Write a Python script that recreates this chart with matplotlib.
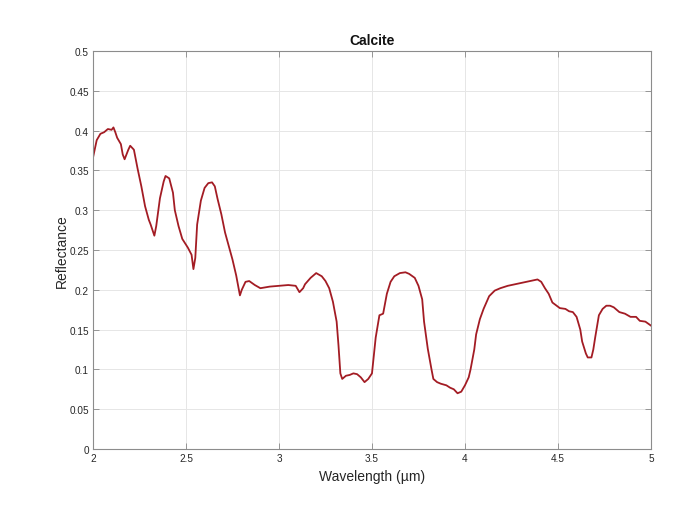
import matplotlib

matplotlib.use("Agg")
import matplotlib.pyplot as plt

plt.rcParams["font.family"] = ["Liberation Sans", "DejaVu Sans"]

# values
wavelength = [2.00, 2.02, 2.04, 2.06, 2.08, 2.10, 2.11, 2.12, 2.13, 2.15, 2.16, 2.17,
              2.19, 2.20, 2.22, 2.24, 2.26, 2.28, 2.30, 2.31, 2.33, 2.34, 2.36, 2.38,
              2.39, 2.41, 2.43, 2.44, 2.46, 2.48, 2.51, 2.53, 2.54, 2.55, 2.56, 2.58,
              2.60, 2.62, 2.64, 2.655, 2.67, 2.69, 2.71, 2.73, 2.75, 2.77, 2.79, 2.80,
              2.82, 2.84, 2.87, 2.90, 2.95, 3.00, 3.05, 3.09, 3.11, 3.13, 3.14, 3.17,
              3.20, 3.23, 3.25, 3.27, 3.29, 3.31, 3.32, 3.33, 3.34, 3.36, 3.38, 3.40,
              3.42, 3.44, 3.46, 3.48, 3.50, 3.52, 3.54, 3.56, 3.58, 3.60, 3.62, 3.65,
              3.68, 3.70, 3.73, 3.75, 3.77, 3.78, 3.80, 3.82, 3.83, 3.85, 3.87, 3.90,
              3.92, 3.94, 3.96, 3.98, 4.00, 4.02, 4.03, 4.05, 4.06, 4.08, 4.10, 4.13,
              4.16, 4.19, 4.23, 4.27, 4.31, 4.35, 4.39, 4.41, 4.43, 4.45, 4.47, 4.51,
              4.54, 4.56, 4.58, 4.60, 4.62, 4.63, 4.65, 4.66, 4.68, 4.69, 4.70, 4.72,
              4.74, 4.76, 4.78, 4.80, 4.83, 4.86, 4.89, 4.92, 4.94, 4.97, 5.00]
reflectance = [0.366, 0.388, 0.396, 0.398, 0.402, 0.401, 0.404, 0.398, 0.391, 0.383, 0.370, 0.364,
               0.376, 0.381, 0.376, 0.352, 0.330, 0.305, 0.288, 0.282, 0.268, 0.280, 0.315, 0.336,
               0.343, 0.340, 0.322, 0.300, 0.280, 0.264, 0.253, 0.244, 0.226, 0.240, 0.282, 0.312,
               0.328, 0.334, 0.335, 0.330, 0.314, 0.295, 0.272, 0.255, 0.238, 0.218, 0.193, 0.200,
               0.210, 0.211, 0.206, 0.202, 0.204, 0.205, 0.206, 0.205, 0.197, 0.202, 0.207, 0.215,
               0.221, 0.217, 0.211, 0.202, 0.185, 0.160, 0.130, 0.095, 0.088, 0.092, 0.093, 0.095,
               0.094, 0.090, 0.084, 0.088, 0.095, 0.140, 0.168, 0.170, 0.195, 0.210, 0.217, 0.221,
               0.222, 0.220, 0.215, 0.205, 0.188, 0.160, 0.126, 0.100, 0.088, 0.084, 0.082, 0.080,
               0.077, 0.075, 0.070, 0.072, 0.080, 0.090, 0.100, 0.125, 0.144, 0.163, 0.176, 0.192,
               0.199, 0.202, 0.205, 0.207, 0.209, 0.211, 0.213, 0.210, 0.202, 0.195, 0.184, 0.177,
               0.176, 0.173, 0.172, 0.166, 0.150, 0.135, 0.120, 0.115, 0.115, 0.125, 0.140, 0.168,
               0.176, 0.180, 0.180, 0.178, 0.172, 0.170, 0.166, 0.166, 0.161, 0.160, 0.155]

x_ticks = [2, 2.5, 3, 3.5, 4, 4.5, 5]
x_ticklabels = ["2", "2.5", "3", "3.5", "4", "4.5", "5"]
y_ticks = [0, 0.05, 0.1, 0.15, 0.2, 0.25, 0.3, 0.35, 0.4, 0.45, 0.5]
y_ticklabels = ["0", "0.05", "0.1", "0.15", "0.2", "0.25", "0.3", "0.35", "0.4", "0.45", "0.5"]

fig = plt.figure(figsize=(6.96, 5.06), dpi=100)
ax = fig.add_axes([0.1336, 0.1107, 0.8017, 0.7865])

ax.plot(wavelength, reflectance, color="#A31C24", lw=1.3)

ax.set_xlim(2, 5)
ax.set_ylim(0, 0.5)
ax.set_xticks(x_ticks)
ax.set_xticklabels(x_ticklabels)
ax.set_yticks(y_ticks)
ax.set_yticklabels(y_ticklabels)
ax.tick_params(direction="in", length=4, width=0.6, color="#888888",
               labelsize=7.2, labelcolor="#262626", top=True, right=True, pad=3)
ax.grid(True, color="#e6e6e6", lw=0.7)
ax.set_axisbelow(True)
for s in ax.spines.values():
    s.set_color("#8c8c8c")
    s.set_linewidth(0.8)

ax.set_title("Calcite", fontsize=10, fontweight="bold", color="#111111", pad=5)
ax.set_xlabel("Wavelength (\u00b5m)", fontsize=10, color="#262626", labelpad=4)
ax.set_ylabel("Reflectance", fontsize=10, color="#262626", labelpad=0)

fig.savefig("out.png", dpi=100)
